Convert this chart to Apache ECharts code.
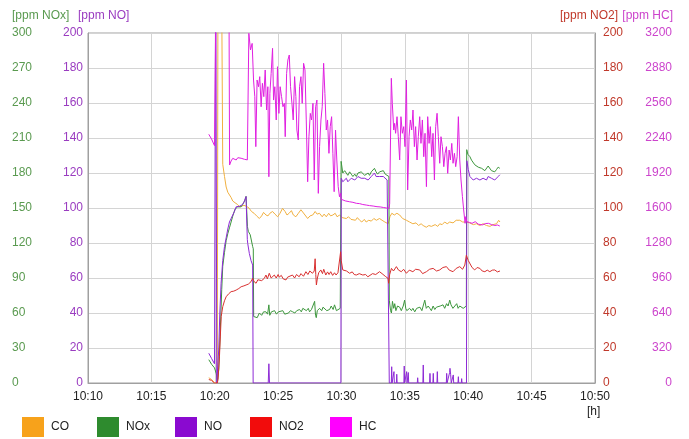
<!DOCTYPE html>
<html>
<head>
	<meta charset="utf-8">
	<title></title>
	<script src="https://cdn.jsdelivr.net/npm/echarts@6/dist/echarts.min.js"></script>
	<style>
	html, body {
		margin: 0;
		padding: 0;
		background: #ffffff;
	}
	#main {
		width: 689px;
		height: 439px;
	}
	</style>
</head>
<body>
	<div id="main"></div>
	<script>
		// time = minutes after 10:00
		var seriesNames = ['CO', 'NOx', 'NO', 'NO2', 'HC'];
		var axisTitles = ['[ppm NOx]', '[ppm NO]', '[ppm NO2]', '[ppm HC]'];

		var coData = [[19.53,3],[19.75,2],[19.98,0],[20.2,0],[20.27,300],[20.48,300],[20.63,125],[20.77,118],[20.9,112],[21.03,109],[21.16,108],[21.29,106],[21.42,104],[21.6,103],[21.8,102],[21.95,100.7],[22.1,101],[22.3,101.5],[22.5,101],[22.7,100],[22.9,98],[23.1,97],[23.3,95.5],[23.52,94],[23.7,95.5],[23.85,97.5],[24.04,96],[24.2,95.5],[24.35,97],[24.56,98],[24.75,96.5],[24.96,95],[25.15,97],[25.35,99.8],[25.55,98],[25.7,96],[25.87,97],[26.05,98.5],[26.2,96],[26.4,95],[26.6,97],[26.8,99],[26.95,98.9],[27.12,96],[27.33,94],[27.52,95.5],[27.73,96],[27.92,98],[28.08,96.5],[28.26,97],[28.48,95],[28.63,96.5],[28.8,95],[28.99,97],[29.14,95.5],[29.32,96],[29.5,97],[29.65,95],[29.85,96],[30.05,94.5],[30.2,95.5],[30.38,94],[30.55,95],[30.75,93.5],[30.9,94],[31.1,93],[31.25,94.5],[31.43,93],[31.6,92],[31.8,93.5],[31.95,92],[32.15,93],[32.35,92.5],[32.55,94],[32.75,93],[33.0,94],[33.2,93],[33.42,92],[33.57,93],[33.68,91],[33.82,95],[33.97,97],[34.17,96],[34.37,97],[34.59,96],[34.82,94],[35.12,93],[35.37,92],[35.63,91],[35.88,91.5],[36.08,90],[36.28,91],[36.44,90],[36.69,89],[36.89,90],[37.09,89.5],[37.23,89],[37.39,90.5],[37.59,89.5],[37.75,91],[37.94,90.5],[38.14,92],[38.34,91],[38.54,92],[38.8,91.5],[39.05,93],[39.33,93],[39.56,92],[39.87,92],[40.1,91.5],[40.4,90.5],[40.65,91],[40.91,90],[41.16,91],[41.44,90],[41.71,89.5],[41.96,90.5],[42.23,91],[42.4,93],[42.5,92]];

		var noxData = [[19.53,20],[19.75,16],[19.98,13],[20.12,8],[20.22,2],[20.32,12],[20.42,40],[20.55,80],[20.63,100],[20.77,112],[20.9,122],[21.03,128],[21.16,133],[21.29,138],[21.42,143],[21.6,149],[21.81,151],[21.95,152],[22.08,151],[22.2,153],[22.35,156],[22.47,160],[22.55,161],[22.58,134],[22.65,130],[22.73,131],[22.8,127],[22.9,126],[22.99,117],[23.04,115],[23.07,57],[23.2,58],[23.35,56],[23.52,60],[23.7,58],[23.85,61],[24.04,61],[24.17,59],[24.27,67],[24.34,58],[24.47,61],[24.58,60],[24.72,62],[24.87,59],[25.02,61],[25.17,60],[25.37,62],[25.52,59],[25.64,58],[25.82,60],[25.97,62],[26.15,61],[26.32,60],[26.47,62],[26.69,63],[26.83,61],[26.95,64],[27.08,65],[27.23,62],[27.38,64],[27.48,61],[27.63,63],[27.78,62],[27.88,70],[27.95,58],[28.01,56],[28.09,62],[28.27,64],[28.44,62],[28.54,65],[28.66,65],[28.84,62],[29.06,63],[29.19,66],[29.34,63],[29.45,67],[29.6,62],[29.72,63],[29.9,64],[29.95,64],[29.97,190],[30.1,180],[30.25,182],[30.38,181],[30.5,178],[30.64,181],[30.77,179],[30.9,177],[31.05,179],[31.17,177],[31.3,180],[31.43,179],[31.55,181],[31.68,180],[31.83,178],[31.95,177],[32.1,180],[32.21,178],[32.35,181],[32.45,180],[32.6,184],[32.73,181],[32.85,179],[33.0,181],[33.15,180],[33.3,182],[33.45,179],[33.6,178],[33.74,177],[33.77,71],[33.87,62],[33.94,60],[34.02,70],[34.12,64],[34.2,68],[34.29,62],[34.42,66],[34.59,65],[34.72,62],[34.87,66],[34.98,71],[35.07,64],[35.15,62],[35.24,61],[35.37,64],[35.52,62],[35.63,64],[35.78,61],[35.93,64],[36.04,63],[36.19,65],[36.34,62],[36.57,71],[36.69,64],[36.84,66],[36.97,64],[37.09,62],[37.23,66],[37.36,63],[37.49,65],[37.64,64],[37.79,66],[38.01,67],[38.14,64],[38.29,68],[38.41,66],[38.54,71],[38.64,67],[38.79,64],[38.93,65],[39.09,68],[39.2,64],[39.33,66],[39.47,67],[39.6,64],[39.74,65],[39.85,66],[39.88,200],[39.97,196],[40.13,194],[40.26,191],[40.39,190],[40.52,187],[40.65,188],[40.79,185],[40.92,185],[41.06,184],[41.17,183],[41.31,182],[41.44,183],[41.57,186],[41.7,185],[41.83,182],[41.96,182],[42.09,181],[42.23,183],[42.36,185],[42.49,184]];

		var noData = [[19.53,17],[19.75,14],[19.98,11],[20.08,260],[20.16,0],[20.24,1],[20.32,20],[20.4,40],[20.5,57],[20.63,70],[20.77,78],[20.9,83],[21.03,88],[21.16,92],[21.29,94],[21.42,96],[21.55,98],[21.69,100.7],[21.81,101],[21.95,101],[22.08,101.7],[22.2,102],[22.35,104],[22.47,106.5],[22.55,107.4],[22.57,82],[22.6,79.8],[22.73,74],[22.86,70],[22.99,67.4],[23.03,0],[24.22,0],[24.27,11],[24.32,0],[29.95,0],[29.98,117],[30.1,115],[30.25,116],[30.38,117],[30.5,115],[30.64,116],[30.77,117],[30.9,117],[31.05,116],[31.17,117],[31.3,118],[31.43,118],[31.55,117],[31.68,118],[31.83,117],[31.95,117],[32.1,116],[32.21,117],[32.35,118],[32.45,118],[32.6,120],[32.73,118],[32.85,117],[33.0,118],[33.15,117],[33.3,118],[33.45,117],[33.6,116],[33.74,115],[33.77,0],[33.93,0],[33.96,9.3],[33.99,0],[34.11,0],[34.14,6.5],[34.17,0],[34.33,0],[34.36,5],[34.39,0],[34.92,0],[34.95,9.7],[34.98,0],[35.11,0],[35.14,6.5],[35.17,0],[35.24,0],[35.27,6],[35.3,0],[35.98,0],[36.01,3],[36.04,0],[36.42,0],[36.45,10.3],[36.48,0],[36.95,0],[36.98,5.5],[37.01,0],[37.21,0],[37.24,5.5],[37.27,0],[37.53,0],[37.56,6.5],[37.59,0],[38.27,0],[38.3,5.5],[38.33,0],[38.48,0],[38.53,6],[38.56,8.4],[38.61,5],[38.66,0],[38.79,0],[38.82,4.6],[38.85,0],[39.19,0],[39.22,3.6],[39.25,0],[39.45,0],[39.48,2.5],[39.51,0],[39.86,0],[39.89,127],[40.0,122],[40.13,118],[40.26,117],[40.39,116],[40.52,117],[40.65,117],[40.79,116],[40.92,116],[41.06,117],[41.17,117],[41.31,116],[41.44,116],[41.57,118],[41.7,119],[41.83,117],[41.96,117],[42.09,116],[42.23,117],[42.36,118],[42.49,119]];

		var no2Data = [[19.53,2],[19.75,1.5],[19.98,0],[20.2,0],[20.26,2],[20.37,15],[20.51,38],[20.63,43.6],[20.77,47],[20.9,49.3],[21.1,51],[21.29,52.2],[21.5,52.5],[21.69,53.1],[21.9,54],[22.08,55],[22.3,55.5],[22.47,56],[22.65,56.5],[22.86,57.9],[22.99,59.8],[23.1,58],[23.26,57],[23.4,59],[23.52,59.8],[23.7,58.5],[23.91,59.8],[24.04,61.7],[24.15,59.5],[24.3,62.7],[24.45,60],[24.56,58.9],[24.7,61.7],[24.85,60],[25.0,62],[25.09,60.5],[25.25,61.5],[25.4,59.5],[25.62,58.9],[25.75,60.5],[25.9,59.5],[26.13,61.7],[26.3,60],[26.45,62],[26.66,60.7],[26.8,62.5],[27.0,61],[27.19,63.6],[27.35,62],[27.5,64],[27.71,62.7],[27.85,64],[27.92,71],[27.97,62],[28.02,56],[28.1,60],[28.2,63],[28.37,64.6],[28.5,62.5],[28.6,65],[28.76,61.7],[28.9,63.5],[29.02,62],[29.15,63.6],[29.3,61.5],[29.45,63],[29.57,61.7],[29.72,63],[29.85,64],[29.93,75],[29.98,70],[30.1,64.6],[30.25,63.5],[30.4,64],[30.64,62.7],[30.85,63.5],[31.0,62],[31.17,61.7],[31.4,62.5],[31.68,61.7],[31.9,62],[32.08,60.7],[32.21,61.7],[32.45,62.5],[32.7,62],[33.0,63.6],[33.2,62.5],[33.45,61],[33.67,59.8],[33.72,57],[33.8,62],[33.94,65.5],[34.1,64],[34.33,66.5],[34.5,64.5],[34.72,63.6],[34.9,65],[35.12,62.7],[35.35,64.5],[35.63,63.6],[35.85,65],[36.17,64.6],[36.4,62.5],[36.7,63.6],[36.95,65],[37.23,65.5],[37.5,64],[37.75,64.6],[38.0,66],[38.28,66.5],[38.5,64.5],[38.8,63.6],[39.05,65.5],[39.33,66.5],[39.55,65],[39.73,67.4],[39.85,73],[40.0,70],[40.12,69.3],[40.3,66],[40.51,64.6],[40.7,66],[40.92,65.5],[41.1,64],[41.31,63.6],[41.5,64.5],[41.7,63.6],[41.9,64.5],[42.09,64.6],[42.3,63.5],[42.5,64]];

		var hcData = [[19.53,2274],[19.75,2230],[19.98,2170],[20.1,3600],[21.12,3600],[21.17,1993],[21.29,2030],[21.42,2054],[21.55,2050],[21.69,2039],[21.82,2060],[21.95,2069],[22.08,2055],[22.2,2054],[22.35,2045],[22.47,2039],[22.57,2040],[22.69,3197],[22.82,3045],[22.95,3105],[23.06,2770],[23.16,2618],[23.24,2161],[23.34,2770],[23.45,2709],[23.55,2801],[23.66,2526],[23.76,2740],[23.87,2618],[23.98,2862],[24.09,2496],[24.19,2709],[24.27,1886],[24.35,2648],[24.45,2831],[24.56,3060],[24.64,2587],[24.74,2709],[24.85,2405],[24.95,2892],[25.06,2465],[25.16,2709],[25.27,2618],[25.38,2526],[25.49,2557],[25.56,2252],[25.67,2831],[25.77,2953],[25.88,2999],[25.98,2709],[26.09,2557],[26.19,2405],[26.3,2801],[26.4,2618],[26.48,2313],[26.59,2222],[26.69,2709],[26.8,2801],[26.9,2557],[27.01,2923],[27.12,2862],[27.22,2405],[27.33,1840],[27.43,2252],[27.54,2465],[27.64,2405],[27.75,2557],[27.85,1856],[27.96,2526],[28.06,2587],[28.17,1734],[28.27,2161],[28.38,2405],[28.48,2526],[28.59,2923],[28.69,2648],[28.8,2313],[28.9,2405],[29.01,2100],[29.11,2344],[29.22,2435],[29.32,2100],[29.42,1749],[29.53,2313],[29.63,2039],[29.74,1795],[29.84,1703],[29.93,1734],[29.97,1680],[30.1,1673],[30.3,1665],[30.64,1657],[30.9,1652],[31.17,1643],[31.43,1640],[31.68,1632],[31.95,1627],[32.21,1622],[32.5,1618],[32.8,1612],[33.05,1610],[33.3,1605],[33.55,1600],[33.75,1597],[33.8,1640],[33.93,2786],[34.01,2557],[34.12,2313],[34.19,2374],[34.27,2283],[34.38,2435],[34.48,2252],[34.59,2039],[34.69,2435],[34.8,2283],[34.91,2344],[35.01,2161],[35.12,2770],[35.22,1765],[35.33,2252],[35.43,2405],[35.54,2313],[35.64,2496],[35.75,2161],[35.85,2344],[35.96,2039],[36.06,2252],[36.17,2435],[36.27,2191],[36.38,2405],[36.49,2069],[36.59,2283],[36.7,1795],[36.8,2435],[36.91,2191],[37.01,2344],[37.12,2069],[37.22,2283],[37.33,1856],[37.43,2344],[37.54,2466],[37.64,2252],[37.75,2009],[37.85,2252],[37.96,2161],[38.07,1978],[38.17,2100],[38.28,2161],[38.38,1917],[38.49,2130],[38.59,2039],[38.7,2191],[38.8,2009],[38.91,2100],[39.01,1978],[39.12,2069],[39.22,2435],[39.33,2039],[39.43,1856],[39.54,1704],[39.64,1582],[39.75,1460],[39.8,1521],[39.88,1475],[40.1,1468],[40.3,1460],[40.55,1475],[40.8,1452],[41.1,1445],[41.35,1458],[41.6,1460],[41.85,1448],[42.1,1440],[42.3,1445],[42.49,1435]];

		var swatchColors = ['#f7a21b', '#2e8b2e', '#8a0ad0', '#f20c0c', '#ff00ff'];
		var lineColors = ['#f0b040', '#3c963c', '#8e2bd6', '#d83030', '#e020e0'];
		var labelColors = ['#5a9a50', '#9a3cc0', '#c0392b', '#cc44cc'];
		var legendLeft = [22, 97, 175, 250, 330];

		var myChart = echarts.init(document.getElementById('main'), null, {renderer: 'canvas'});

		function timeLabel(v) {
			return '10:' + (v < 10 ? '0' + v : v);
		}

		function plainLabel(v) {
			return String(v);
		}

		function makeSeries(i, data, axisIndex) {
			return {
				name: seriesNames[i],
				type: 'line',
				yAxisIndex: axisIndex,
				data: data,
				showSymbol: false,
				symbol: 'none',
				clip: true,
				itemStyle: { color: swatchColors[i] },
				lineStyle: { color: lineColors[i], width: 1 }
			};
		}

		var legends = [];
		for (var i = 0; i < seriesNames.length; i++) {
			legends.push({
				data: [seriesNames[i]],
				left: legendLeft[i],
				top: 417,
				padding: 0,
				icon: 'rect',
				itemWidth: 22,
				itemHeight: 20,
				selectedMode: false,
				textStyle: { fontSize: 12, color: '#222', padding: [0, 0, 0, 2] }
			});
		}

		var gridColor = '#d4d4d4';
		var borderColor = '#a0a0a0';

		var option = {
			animation: false,
			textStyle: { fontFamily: 'Liberation Sans, Arial, sans-serif' },
			grid: {
				left: 88, right: 94, top: 33, bottom: 56,
				show: true, borderColor: borderColor, borderWidth: 1
			},
			legend: legends,
			xAxis: {
				type: 'value',
				min: 10, max: 50, interval: 5,
				axisLine: { lineStyle: { color: borderColor } },
				axisTick: { show: false },
				axisLabel: { formatter: timeLabel, color: '#222', fontSize: 12, margin: 8, showMinLabel: true, showMaxLabel: true },
				splitLine: { lineStyle: { color: gridColor } }
			},
			yAxis: [
				{
					type: 'value', position: 'left', min: 0, max: 300, interval: 30,
					axisLine: { show: false }, axisTick: { show: false }, splitLine: { show: false },
					axisLabel: { color: labelColors[0], fontSize: 12, margin: 76, align: 'left', formatter: plainLabel }
				},
				{
					type: 'value', position: 'left', min: 0, max: 200, interval: 20,
					axisLine: { show: true, lineStyle: { color: borderColor } }, axisTick: { show: false },
					splitLine: { lineStyle: { color: gridColor } },
					axisLabel: { color: labelColors[1], fontSize: 12, margin: 5, formatter: plainLabel }
				},
				{
					type: 'value', position: 'right', min: 0, max: 200, interval: 20,
					axisLine: { show: true, lineStyle: { color: borderColor } }, axisTick: { show: false }, splitLine: { show: false },
					axisLabel: { color: labelColors[2], fontSize: 12, margin: 8, formatter: plainLabel }
				},
				{
					type: 'value', position: 'right', min: 0, max: 3200, interval: 320,
					axisLine: { show: false }, axisTick: { show: false }, splitLine: { show: false },
					axisLabel: { color: labelColors[3], fontSize: 12, margin: 77, align: 'right', formatter: plainLabel }
				}
			],
			graphic: [
				{ type: 'text', left: 12, top: 10, style: { text: axisTitles[0], fill: labelColors[0], font: '12px Liberation Sans, Arial, sans-serif' } },
				{ type: 'text', left: 78, top: 10, style: { text: axisTitles[1], fill: labelColors[1], font: '12px Liberation Sans, Arial, sans-serif' } },
				{ type: 'text', right: 71, top: 10, style: { text: axisTitles[2], fill: labelColors[2], font: '12px Liberation Sans, Arial, sans-serif' } },
				{ type: 'text', right: 16, top: 10, style: { text: axisTitles[3], fill: labelColors[3], font: '12px Liberation Sans, Arial, sans-serif' } },
				{ type: 'text', left: 587, top: 406, style: { text: '[h]', fill: '#222', font: '12px Liberation Sans, Arial, sans-serif' } }
			],
			series: [
				makeSeries(0, coData, 1),
				makeSeries(1, noxData, 0),
				makeSeries(2, noData, 1),
				makeSeries(3, no2Data, 2),
				makeSeries(4, hcData, 3)
			]
		};
		myChart.setOption(option);
	</script>
</body>
</html>
